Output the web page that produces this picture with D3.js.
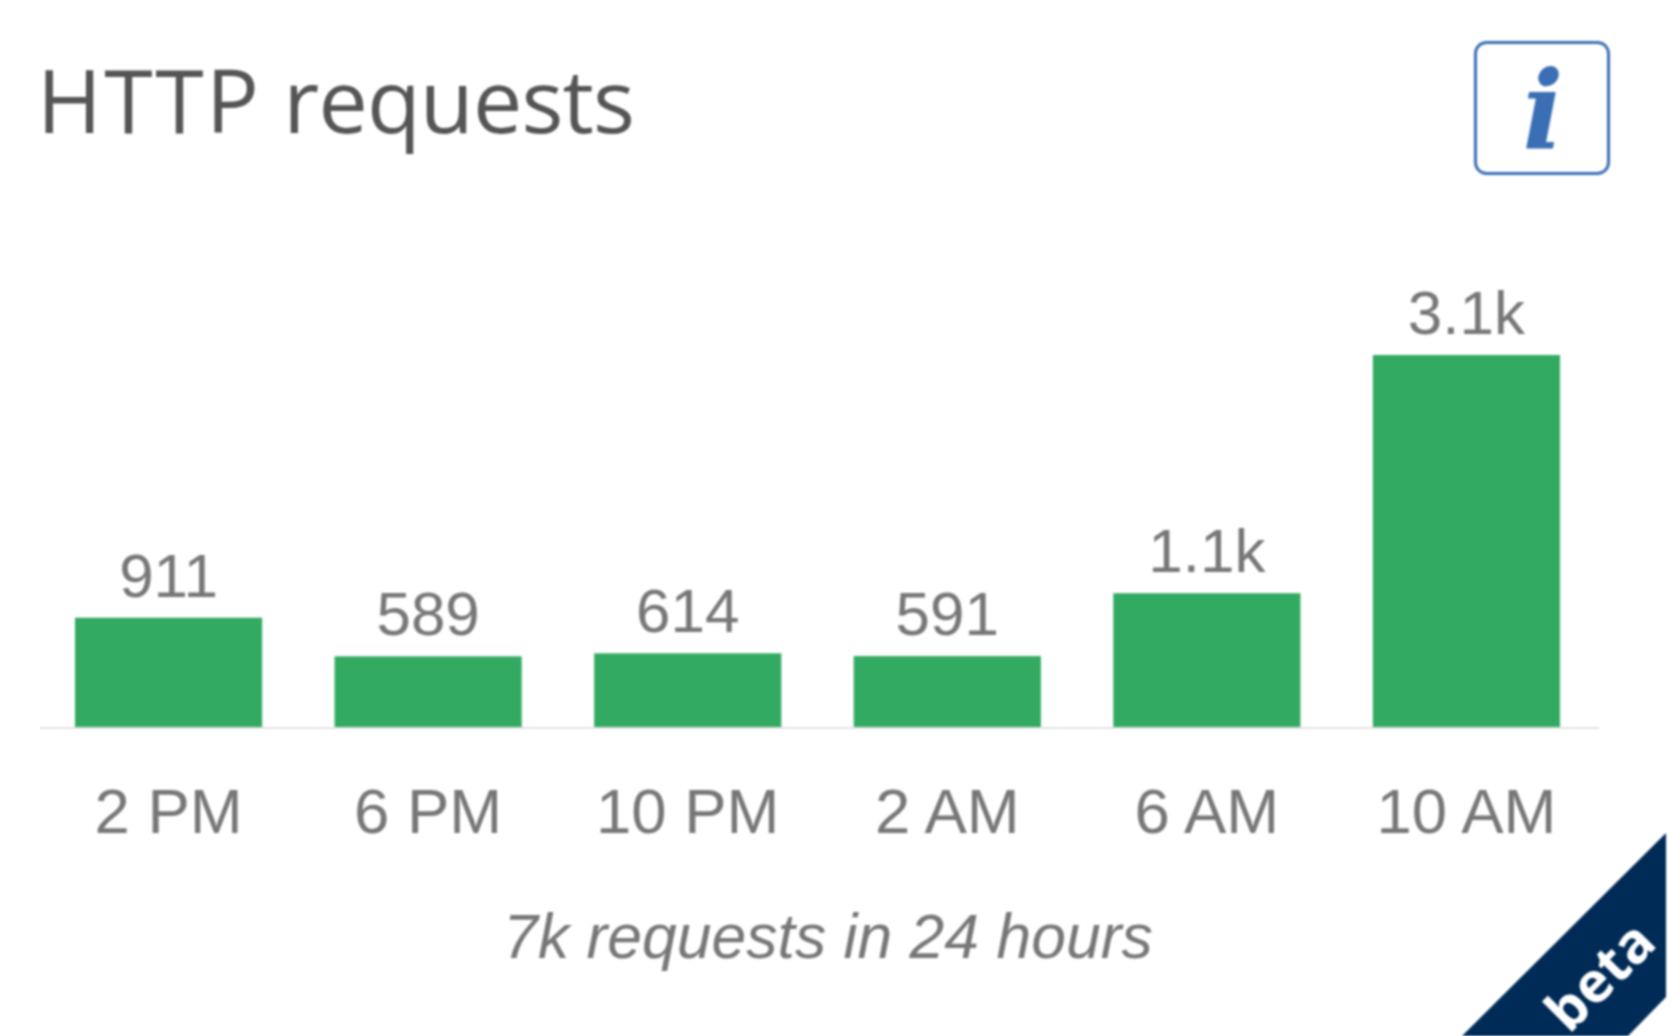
<!DOCTYPE html>
<html><head><meta charset="utf-8">
<script src="https://cdn.jsdelivr.net/npm/d3@7/dist/d3.min.js"></script>
<style>html,body{margin:0;padding:0;background:#fff;overflow:hidden}svg{display:block;filter:blur(1.3px)}</style>
</head><body><svg id="c" width="1671" height="1036"></svg>
<script>
const categories = ["2 PM","6 PM","10 PM","2 AM","6 AM","10 AM"];
const values = [911,589,614,591,1115,3100];
const valueLabels = ["911","589","614","591","1.1k","3.1k"];
const titleWords = ["HTTP","requests"];
const footerText = "7k requests in 24 hours";
const badgeText = "beta";

const svg = d3.select("#c");
const baseY = 727;
const x = d3.scaleBand().domain(categories).range([75,1560]).paddingInner(0.279).paddingOuter(0);
const y = d3.scaleLinear().domain([0,3100]).range([baseY,355]);

const title = svg.append("text").attr("x",37).attr("y",133).attr("font-family","'Open Sans'").attr("font-size",88).attr("fill","#555");
title.append("tspan").attr("letter-spacing",2.4).text(titleWords[0]);
title.append("tspan").attr("letter-spacing",-0.9).text(" "+titleWords[1]);

const info = svg.append("g");
info.append("rect").attr("x",1475.5).attr("y",42.5).attr("width",133).attr("height",131).attr("rx",11).attr("fill","#fff").attr("stroke","#3a6fb5").attr("stroke-width",3);
info.append("text").attr("x",1543).attr("y",149).attr("text-anchor","middle").attr("font-family","'DejaVu Serif'").attr("font-style","italic").attr("font-weight","bold").attr("font-size",108).attr("fill","#3a6fb5").text("i");

const axis = d3.axisBottom(x).tickSize(0);
const gx = svg.append("g").attr("transform",`translate(0,${baseY})`).call(axis);
gx.select(".domain").remove();
gx.selectAll("text").attr("font-family","'Liberation Sans'").attr("font-size",63.5).attr("fill","#777").attr("dy",0).attr("y",106);
svg.append("line").attr("x1",40).attr("x2",1599).attr("y1",baseY+1).attr("y2",baseY+1).attr("stroke","#e3e3e3").attr("stroke-width",2);

svg.selectAll("rect.bar").data(values).join("rect").attr("class","bar")
  .attr("x",(d,i)=>x(categories[i])).attr("width",x.bandwidth())
  .attr("y",d=>y(d)).attr("height",d=>baseY-y(d)).attr("fill","#33aa62");

svg.selectAll("text.val").data(values).join("text").attr("class","val")
  .attr("x",(d,i)=>x(categories[i])+x.bandwidth()/2).attr("y",d=>y(d)-21)
  .attr("text-anchor","middle").attr("font-family","'Liberation Sans'").attr("font-size",62).attr("fill","#777")
  .text((d,i)=>valueLabels[i]);

svg.append("text").attr("x",828).attr("y",958).attr("text-anchor","middle").attr("font-family","'Liberation Sans'").attr("font-style","italic").attr("font-size",62.5).attr("fill","#777").text(footerText);

svg.append("polygon").attr("points","1666,833 1462,1036 1628,1036 1666,997").attr("fill","#002b56");
svg.append("text").attr("transform","translate(1600,976) rotate(-45)").attr("text-anchor","middle").attr("dy","0.35em").attr("font-family","'Open Sans'").attr("font-weight",700).attr("font-size",56).attr("fill","#fff").text(badgeText);
</script></body></html>
